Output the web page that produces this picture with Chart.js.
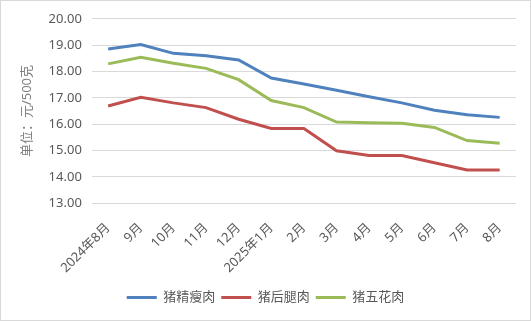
<!DOCTYPE html>
<html>
<head>
<meta charset="utf-8">
<script src="https://cdn.jsdelivr.net/npm/chart.js@4/dist/chart.umd.min.js"></script>
<style>
  html, body { margin: 0; padding: 0; background: #fff; }
  #wrap { width: 529px; height: 319px; border: 1px solid #d9d9d9; position: relative; }
</style>
</head>
<body>
<div id="wrap"><canvas id="myChart"></canvas></div>
<script>
// Etiquetas del eje x
const meses = ['2024年8月', '9月', '10月', '11月', '12月', '2025年1月', '2月', '3月', '4月', '5月', '6月', '7月', '8月'];

// Precios (元/500克)
const jingshou = [18.85, 19.02, 18.69, 18.60, 18.44, 17.75, 17.53, 17.29, 17.04, 16.81, 16.53, 16.36, 16.26];
const houtui   = [16.69, 17.02, 16.81, 16.63, 16.19, 15.84, 15.84, 14.99, 14.81, 14.81, 14.54, 14.26, 14.26];
const wuhua    = [18.29, 18.54, 18.31, 18.12, 17.69, 16.90, 16.63, 16.08, 16.06, 16.04, 15.88, 15.38, 15.28];

const fuente = '"Noto Sans", "Noto Sans CJK SC", sans-serif';
const gris = '#595959';

const cnv = document.getElementById('myChart');

const datos = {
    labels: meses,
    datasets: [
        { label: '猪精瘦肉', data: jingshou, borderColor: '#4F81BD', backgroundColor: '#4F81BD', borderWidth: 3 },
        { label: '猪后腿肉', data: houtui, borderColor: '#C0504D', backgroundColor: '#C0504D', borderWidth: 3 },
        { label: '猪五花肉', data: wuhua, borderColor: '#9BBB59', backgroundColor: '#9BBB59', borderWidth: 3 }
    ]
};

new Chart(cnv, {
    type: 'line',
    data: datos,
    options: {
        responsive: true,
        maintainAspectRatio: false,
        animation: false,
        layout: { padding: { left: 14, right: 14, top: 6, bottom: 6 } },
        elements: {
            line: { borderWidth: 3, tension: 0 },
            point: { radius: 0, hoverRadius: 0 }
        },
        plugins: {
            legend: {
                position: 'bottom',
                labels: {
                    usePointStyle: true,
                    pointStyle: 'line',
                    pointStyleWidth: 30,
                    padding: 6,
                    color: gris,
                    font: { family: fuente, size: 13 }
                }
            },
            tooltip: { enabled: false }
        },
        scales: {
            x: {
                offset: true,
                grid: { display: false },
                border: { display: false },
                ticks: {
                    color: gris,
                    maxRotation: 45,
                    minRotation: 45,
                    autoSkip: false,
                    padding: 9,
                    font: { family: fuente, size: 13 }
                }
            },
            y: {
                min: 13,
                max: 20,
                ticks: {
                    stepSize: 1,
                    color: gris,
                    padding: 10,
                    font: { family: fuente, size: 13 },
                    callback: v => v.toFixed(2)
                },
                grid: { color: '#d9d9d9', drawTicks: false },
                border: { display: false },
                title: {
                    display: true,
                    text: '单位：元/500克',
                    color: '#7f7f7f',
                    font: { family: fuente, size: 13 }
                }
            }
        }
    }
});
</script>
</body>
</html>
